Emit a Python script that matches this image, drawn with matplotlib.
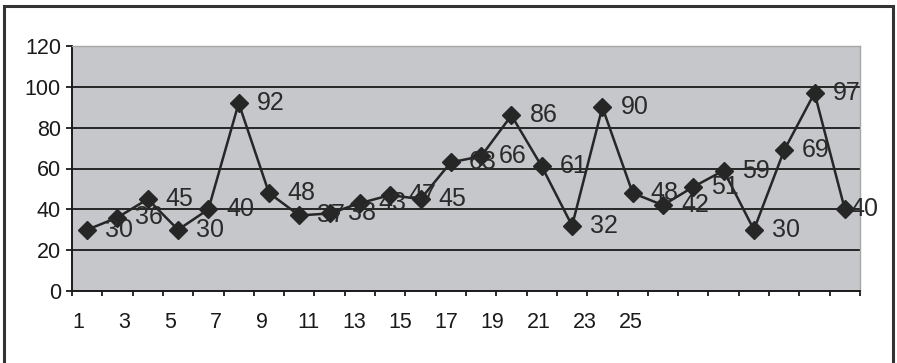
import matplotlib.pyplot as plt
from matplotlib.patches import Rectangle

plt.rcParams['font.family'] = ['Liberation Sans', 'DejaVu Sans']

values = [30, 36, 45, 30, 40, 92, 48, 37, 38, 43, 47, 45, 63,
          66, 86, 61, 32, 90, 48, 42, 51, 59, 30, 69, 97, 40]
x_labels = list(range(1, 26, 2))
y_ticks = [0, 20, 40, 60, 80, 100, 120]

pos = list(range(1, len(values) + 1))

fig = plt.figure(figsize=(8.97, 3.63), dpi=100)
ax = fig.add_axes([72 / 897, 1 - 291 / 363, 788 / 897, 245 / 363])
ax.set_facecolor('#c6c7ca')

# gridlines
for y in y_ticks[1:-1]:
    ax.axhline(y, color='#1a1a1a', lw=1.3, zorder=1)

ax.plot(pos, values, color='#262626', lw=1.8, marker='D', markersize=9.5,
        markerfacecolor='#262626', markeredgecolor='#262626', zorder=3)

for i, v in zip(pos, values):
    off = 6 if i == len(values) else 18
    ax.annotate(str(v), (i, v), xytext=(off, 0), textcoords='offset pixels',
                ha='left', va='center', fontsize=18, color='#2a2a2a',
                annotation_clip=False, zorder=4)

ax.set_xlim(0.5, len(values) + 0.5)
ax.set_ylim(0, 120)
ax.set_yticks(y_ticks)
ax.set_yticklabels([str(t) for t in y_ticks])
ax.set_xticks([p - 0.5 for p in pos] + [len(values) + 0.5])
ax.set_xticklabels([])
ax.tick_params(axis='y', direction='out', length=4, width=1.3, pad=4,
               labelsize=15.5, colors='#1a1a1a')
ax.tick_params(axis='x', direction='out', length=3.5, width=1.3, colors='#1a1a1a')

for side in ('left', 'bottom'):
    ax.spines[side].set_color('#1a1a1a')
    ax.spines[side].set_linewidth(1.4)
for side in ('top', 'right'):
    ax.spines[side].set_color('#a8a8a8')
    ax.spines[side].set_linewidth(1.0)

# category labels on their own scale along the bottom
sec = ax.twiny()
sec.set_xlim(0.74, 34.94)
sec.xaxis.set_ticks_position('bottom')
sec.set_xticks(x_labels)
sec.set_xticklabels([str(n) for n in x_labels])
sec.tick_params(axis='x', length=0, pad=15, labelsize=15.5, colors='#1a1a1a')
for s in sec.spines.values():
    s.set_visible(False)

fig.patches.append(Rectangle((4 / 897, -0.1), 889 / 897, 1.1 - 6.5 / 363,
                             transform=fig.transFigure, fill=False,
                             ec='#333333', lw=2.2))

fig.savefig('out.png', dpi=100)
